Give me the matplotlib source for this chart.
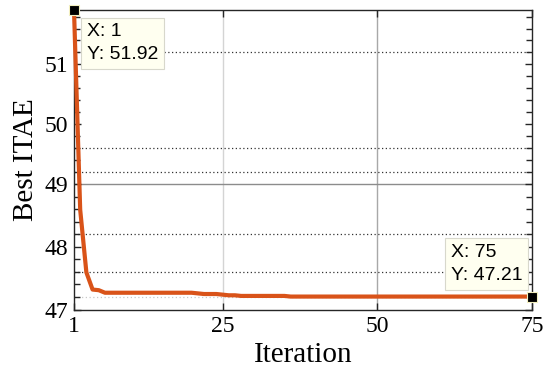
import numpy as np
import matplotlib
matplotlib.use("Agg")
import matplotlib.pyplot as plt
from matplotlib.ticker import FixedLocator, FixedFormatter, NullFormatter

# best ITAE per iteration
iterations = list(range(1, 76))
best_itae = [
    51.92, 48.59, 47.59, 47.32, 47.31,
    47.27, 47.27, 47.27, 47.27, 47.27, 47.27, 47.27, 47.27, 47.27, 47.27,
    47.27, 47.27, 47.27, 47.27, 47.27,
    47.26, 47.25, 47.25, 47.25, 47.24, 47.23, 47.23, 47.22, 47.22, 47.22,
    47.22, 47.22, 47.22, 47.22, 47.22,
    47.21, 47.21, 47.21, 47.21, 47.21, 47.21, 47.21, 47.21, 47.21, 47.21,
    47.21, 47.21, 47.21, 47.21, 47.21, 47.21, 47.21, 47.21, 47.21, 47.21,
    47.21, 47.21, 47.21, 47.21, 47.21, 47.21, 47.21, 47.21, 47.21, 47.21,
    47.21, 47.21, 47.21, 47.21, 47.21, 47.21, 47.21, 47.21, 47.21, 47.21,
]

x_ticks = [1, 25, 50, 75]
y_ticks = [47, 48, 49, 50, 51]
y_minor = [47.2, 47.4, 47.6, 47.8, 48.2, 48.4, 48.6, 48.8, 49.2, 49.4, 49.6, 49.8,
           50.2, 50.4, 50.6, 50.8, 51.2, 51.4, 51.6, 51.8]

# grid lines that survive in the reference image
grid_x = [(25, "#d4d4d4"), (50, "#a8a8a8")]
grid_y = [(49, "#8c8c8c")]
dotted_y = [(51.2, "#333333"), (49.6, "#333333"), (49.2, "#333333"),
            (48.2, "#333333"), (47.6, "#333333"), (47.2, "#c8c8c8")]

# data tips: (index into series, text x, text y) in axes fraction
tips = [(0, 0.028, 0.955), (74, 0.823, 0.22)]

LINE_COLOR = "#D95319"
SERIF = ["Liberation Serif", "DejaVu Serif"]
SANS = ["Liberation Sans", "DejaVu Sans"]

fig = plt.figure(figsize=(5.5, 3.86), dpi=100)
ax = fig.add_axes([74 / 550, 76 / 386, 458 / 550, 300 / 386])

ax.set_yscale("log")
ax.set_xlim(1, 75)
ax.set_ylim(47, 51.92)

for xv, c in grid_x:
    ax.axvline(xv, color=c, lw=1.0, zorder=1)
for yv, c in grid_y:
    ax.axhline(yv, color=c, lw=1.0, zorder=1)
for yv, c in dotted_y:
    ax.axhline(yv, color=c, lw=0.9, ls=(0, (1, 2)), zorder=1)

ax.plot(iterations, best_itae, color=LINE_COLOR, lw=3.0, zorder=3, clip_on=False)

for idx, tx, ty in tips:
    ax.plot(iterations[idx], best_itae[idx], marker="s", ms=7, color="black",
            mec="#f4f0c0", mew=0.8, zorder=5, clip_on=False)
    ax.text(tx, ty, f"X: {iterations[idx]}\nY: {best_itae[idx]:.2f}",
            transform=ax.transAxes, ha="left", va="top", fontsize=14,
            family=SANS, linespacing=1.45, zorder=6,
            bbox=dict(boxstyle="square,pad=0.3", fc="#fffff0", ec="#d8d8cc", lw=0.8))

ax.xaxis.set_major_locator(FixedLocator(x_ticks))
ax.xaxis.set_major_formatter(FixedFormatter([str(v) for v in x_ticks]))
ax.xaxis.set_minor_locator(FixedLocator([]))
ax.yaxis.set_major_locator(FixedLocator(y_ticks))
ax.yaxis.set_major_formatter(FixedFormatter([str(v) for v in y_ticks]))
ax.yaxis.set_minor_locator(FixedLocator(y_minor))
ax.yaxis.set_minor_formatter(NullFormatter())

ax.tick_params(which="both", direction="in", top=True, right=True,
               color="#262626", width=1.0)
ax.tick_params(which="major", length=5)
ax.tick_params(which="minor", length=4)
ax.tick_params(axis="both", labelsize=17, pad=4)
for lab in ax.get_xticklabels() + ax.get_yticklabels():
    lab.set_family(SERIF)

for sp in ax.spines.values():
    sp.set_color("#262626")
    sp.set_linewidth(1.0)

ax.set_xlabel("Iteration", fontsize=21, family=SERIF, labelpad=4)
ax.set_ylabel("Best ITAE", fontsize=21, family=SERIF, labelpad=4)

fig.savefig("out.png", dpi=100)
